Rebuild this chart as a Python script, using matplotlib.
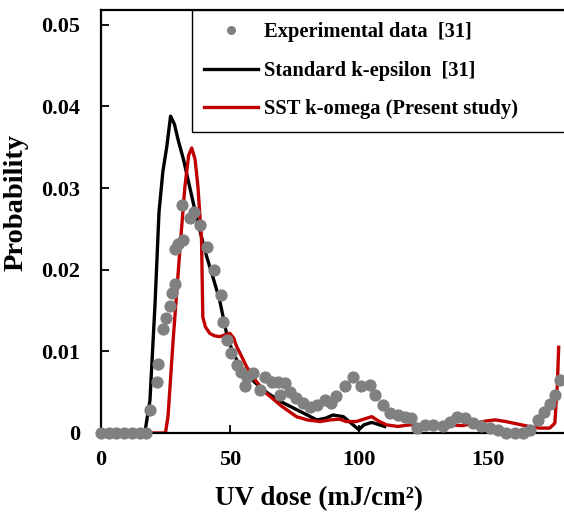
import numpy as np
import matplotlib
matplotlib.use("Agg")
import matplotlib.pyplot as plt

plt.rcParams['font.family'] = ['Liberation Serif', 'DejaVu Serif']
plt.rcParams['font.weight'] = 'bold'

####### Experimental data [31] ##################################
exp_dose = [0, 3, 6, 9, 12, 15, 17.5, 19, 21.6, 22.2, 24.2, 25.4, 26.7, 27.4, 28.7,
            28.9, 30, 31.3, 31.8, 34.5, 36, 38.4, 41, 43.8, 46.4, 47.4, 48.7, 50.6,
            52.6, 54.5, 55.8, 56.5, 59, 61.6, 63.6, 66.2, 68.6, 69.4, 71.3, 73.5,
            75.8, 78.4, 81, 83.6, 86.8, 89.4, 91.3, 94.6, 97.8, 101, 104.3, 106.2,
            109.4, 112, 115.2, 117.8, 120.4, 122.4, 125.6, 128.8, 132.7, 135.3,
            137.9, 141, 144.3, 147.5, 150.8, 154, 157.2, 160.5, 163.7, 166.3,
            169.5, 172, 174, 176, 178]
exp_prob = [0, 0, 0, 0, 0, 0, 0, 0.0028, 0.0063, 0.0085, 0.0127, 0.0141, 0.0155,
            0.0171, 0.0183, 0.0225, 0.0232, 0.0279, 0.0236, 0.0263, 0.0271, 0.0255,
            0.0228, 0.0200, 0.0169, 0.0136, 0.0114, 0.0098, 0.0083, 0.0075, 0.0057,
            0.0069, 0.0073, 0.0053, 0.0069, 0.0063, 0.0063, 0.0047, 0.0061, 0.0050,
            0.0043, 0.0037, 0.0032, 0.0034, 0.0040, 0.0037, 0.0045, 0.0057, 0.0069,
            0.0057, 0.0059, 0.0047, 0.0034, 0.0024, 0.0022, 0.0020, 0.0018, 0.0006,
            0.0010, 0.0010, 0.0008, 0.0014, 0.0020, 0.0018, 0.0012, 0.0008, 0.0006,
            0.0004, 0, 0, 0, 0.0004, 0.0016, 0.0026, 0.0036, 0.0047, 0.0065]

####### Standard k-epsilon [31] ##################################
ke_dose = [0, 17, 19, 21, 22.5, 24, 25.5, 27, 28.5, 30, 32, 34.5, 37, 39, 41, 43.5,
           46, 48.7, 51, 54, 57, 60, 65, 70.6, 75, 80, 83.7, 87, 90, 94, 97, 100,
           102, 105, 108, 110]
ke_prob = [0, 0, 0.004, 0.016, 0.027, 0.032, 0.035, 0.0388, 0.0378, 0.0358, 0.0335,
           0.030, 0.0265, 0.024, 0.0216, 0.019, 0.0163, 0.0122, 0.0100, 0.0081,
           0.0070, 0.0061, 0.0048, 0.0037, 0.0030, 0.0022, 0.0016, 0.0018, 0.0022,
           0.0020, 0.0012, 0.0004, 0.0010, 0.0013, 0.0010, 0.0008]

####### SST k-omega (Present study) ##############################
sst_dose = [0, 25, 26, 28, 30.6, 32.5, 34, 35.2, 36.5, 37.6, 38.5, 39, 39.5, 40.5,
            42.2, 44, 46, 48, 50, 51.5, 52.6, 54.5, 56.5, 60, 64, 70, 75.8, 80, 85,
            88.8, 92.6, 95, 99, 102, 105, 108, 110.7, 115, 120, 125, 130, 135, 140,
            145, 150, 153, 157, 160, 166, 170, 174, 176, 177, 177.5]
sst_prob = [0, 0, 0.002, 0.0114, 0.0224, 0.030, 0.0340, 0.0349, 0.0335, 0.0302,
            0.026, 0.0237, 0.0142, 0.0130, 0.0122, 0.0119, 0.0118, 0.0120, 0.0122,
            0.0116, 0.0106, 0.0094, 0.0081, 0.0064, 0.0049, 0.0033, 0.0020, 0.0016,
            0.0014, 0.0016, 0.0017, 0.0014, 0.0014, 0.0017, 0.0020, 0.0014, 0.0010,
            0.0008, 0.0010, 0.0010, 0.0008, 0.0010, 0.0009, 0.0012, 0.0015, 0.0016,
            0.0014, 0.0012, 0.0008, 0.0006, 0.0006, 0.0012, 0.0060, 0.0105]

# ################# PLOT ############################################
fig = plt.figure(figsize=(5.64, 5.17), dpi=100)
ax = fig.add_axes([0.179, 0.1625, 0.823, 0.8182])

l_ke, = ax.plot(ke_dose, ke_prob, color='black', lw=2.4, label='Standard k-epsilon  [31]')
l_sst, = ax.plot(sst_dose, sst_prob, color='#c00000', lw=2.4, label='SST k-omega (Present study)')
l_exp, = ax.plot(exp_dose, exp_prob, 'o', color='#808080', ms=7.8, clip_on=False,
                 zorder=5, label='Experimental data  [31]')

ax.set_xlim(0, 180)
ax.set_ylim(0, 0.0518)
ax.set_xticks([0, 50, 100, 150])
ax.set_yticks([0, 0.01, 0.02, 0.03, 0.04, 0.05])
ax.set_yticklabels(['0', '0.01', '0.02', '0.03', '0.04', '0.05'])

ax.tick_params(direction='in', length=6, width=1.3, labelsize=16)
ax.tick_params(axis='x', pad=12)
ax.tick_params(axis='y', pad=15)
for sp in ax.spines.values():
    sp.set_linewidth(1.6)

ax.set_xlabel('UV dose (mJ/cm²)', fontsize=19.5, fontweight='bold')
ax.set_ylabel('Probability', fontsize=20.5, fontweight='bold')
ax.xaxis.set_label_coords(0.469, -0.125)
ax.yaxis.set_label_coords(-0.155, 0.545)

leg = ax.legend(handles=[l_exp, l_ke, l_sst], loc='upper left',
                bbox_to_anchor=(0.1965, 0, 0.82, 1.0), mode='expand',
                prop={'weight': 'bold', 'size': 14.8}, frameon=True, fancybox=False,
                edgecolor='black', framealpha=1, handlelength=2.6, handletextpad=0.3,
                labelspacing=0.9, borderpad=0.6, borderaxespad=0, markerscale=0.7)
leg.get_frame().set_linewidth(1.0)

plt.savefig('out.png', dpi=100)
